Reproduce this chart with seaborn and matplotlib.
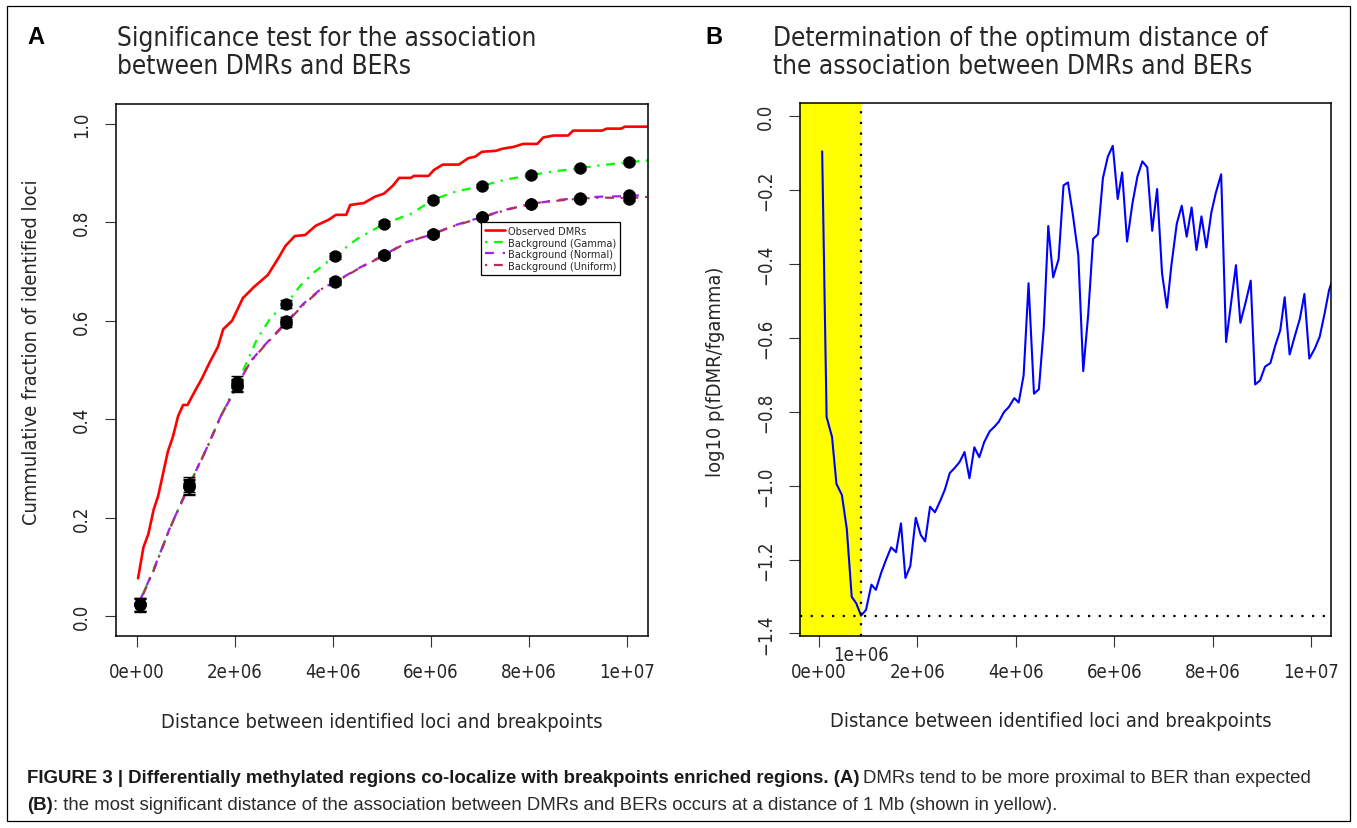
import numpy as np
import pandas as pd
import matplotlib
matplotlib.use('Agg')
import matplotlib.pyplot as plt
import matplotlib.transforms as mtransforms
from matplotlib import font_manager as fm
from matplotlib.patches import Rectangle
import seaborn as sns

# ---- Panel A: cumulative fraction of identified loci (distance in Mb) ----
obs_x = [0.02, 0.13, 0.23, 0.34, 0.43, 0.52, 0.63, 0.73, 0.84, 0.94,
         1.03, 1.18, 1.32, 1.48, 1.65, 1.76, 1.94, 2.16, 2.38, 2.67,
         2.89, 3.03, 3.22, 3.43, 3.65, 3.91, 4.06, 4.27, 4.35, 4.63,
         4.86, 5.04, 5.22, 5.35, 5.59, 5.65, 5.95, 6.06, 6.24, 6.57,
         6.76, 6.90, 7.04, 7.33, 7.45, 7.69, 7.88, 8.17, 8.29, 8.50,
         8.80, 8.90, 9.49, 9.59, 9.88, 9.96, 10.5]
obs_y = [0.077, 0.140, 0.167, 0.217, 0.244, 0.285, 0.335, 0.364, 0.407, 0.429,
         0.429, 0.457, 0.482, 0.515, 0.547, 0.583, 0.600, 0.646, 0.668, 0.693,
         0.728, 0.752, 0.772, 0.774, 0.793, 0.805, 0.815, 0.815, 0.835, 0.839,
         0.852, 0.858, 0.874, 0.890, 0.890, 0.894, 0.894, 0.906, 0.917, 0.917,
         0.930, 0.933, 0.943, 0.945, 0.949, 0.953, 0.959, 0.959, 0.972, 0.976,
         0.976, 0.986, 0.986, 0.990, 0.990, 0.994, 0.994]

gam_x = [0.05, 0.34, 0.66, 1.05, 1.43, 1.71, 2.05, 2.16, 2.45, 2.74, 3.05, 3.33, 3.62,
         4.05, 4.49, 5.05, 5.59, 6.05, 6.5, 7.05, 7.5, 8.05, 8.5, 9.05, 9.5, 10.05, 10.5]
gam_y = [0.030, 0.095, 0.177, 0.264, 0.343, 0.407, 0.475, 0.498, 0.563, 0.608, 0.634, 0.671, 0.699,
         0.732, 0.766, 0.797, 0.817, 0.846, 0.862, 0.874, 0.886, 0.896, 0.903, 0.910, 0.916, 0.922, 0.926]

nor_x = [0.05, 0.34, 0.66, 1.05, 1.43, 1.71, 2.05, 2.3, 2.59, 3.05, 3.4, 3.76, 4.05,
         4.49, 5.05, 5.51, 6.05, 6.46, 7.05, 7.5, 8.05, 8.5, 9.05, 9.5, 10.05, 10.5]
nor_y = [0.030, 0.095, 0.177, 0.264, 0.343, 0.407, 0.468, 0.516, 0.549, 0.598, 0.635, 0.665, 0.679,
         0.705, 0.734, 0.760, 0.776, 0.793, 0.811, 0.825, 0.837, 0.844, 0.850, 0.852, 0.853, 0.857]
uni_y = [0.028, 0.093, 0.176, 0.262, 0.342, 0.406, 0.470, 0.514, 0.548, 0.596, 0.633, 0.664, 0.678,
         0.704, 0.733, 0.759, 0.777, 0.792, 0.810, 0.824, 0.838, 0.843, 0.848, 0.850, 0.849, 0.852]

pt_x = [0.05, 1.05, 2.05, 3.05, 4.05, 5.05, 6.05, 7.05, 8.05, 9.05, 10.05]
gam_pts = [0.024, 0.264, 0.475, 0.634, 0.732, 0.797, 0.846, 0.874, 0.896, 0.910, 0.922]
nor_pts = [0.024, 0.268, 0.468, 0.600, 0.680, 0.734, 0.776, 0.811, 0.837, 0.850, 0.855]
uni_pts = [0.022, 0.262, 0.470, 0.596, 0.678, 0.733, 0.777, 0.810, 0.838, 0.848, 0.848]
pt_err = [0.013, 0.015, 0.012, 0.008, 0.006, 0.005, 0.005, 0.004, 0.004, 0.004, 0.004]

# ---- Panel B: log10 p(fDMR/fgamma) ----
bx = [0.07, 0.16, 0.27, 0.36, 0.47, 0.57, 0.67, 0.76, 0.86, 0.96,
      1.07, 1.16, 1.27, 1.36, 1.47, 1.57, 1.67, 1.76, 1.86, 1.97,
      2.07, 2.16, 2.26, 2.36, 2.47, 2.56, 2.66, 2.76, 2.86, 2.96,
      3.06, 3.16, 3.26, 3.36, 3.47, 3.57, 3.66, 3.76, 3.86, 3.97,
      4.06, 4.16, 4.26, 4.37, 4.47, 4.57, 4.66, 4.76, 4.87, 4.97,
      5.06, 5.16, 5.27, 5.37, 5.47, 5.57, 5.67, 5.77, 5.87, 5.97,
      6.07, 6.16, 6.26, 6.37, 6.47, 6.57, 6.67, 6.77, 6.87, 6.97,
      7.07, 7.16, 7.27, 7.37, 7.47, 7.57, 7.67, 7.77, 7.87, 7.97,
      8.06, 8.17, 8.27, 8.37, 8.47, 8.56, 8.67, 8.77, 8.86, 8.96,
      9.06, 9.17, 9.27, 9.37, 9.46, 9.56, 9.67, 9.77, 9.86, 9.96,
      10.07, 10.17, 10.27, 10.36, 10.46]
by = [-0.095, -0.814, -0.868, -0.995, -1.025, -1.117, -1.301, -1.318, -1.352, -1.336,
      -1.268, -1.282, -1.235, -1.203, -1.167, -1.180, -1.102, -1.250, -1.217, -1.087,
      -1.133, -1.151, -1.057, -1.072, -1.040, -1.011, -0.966, -0.952, -0.936, -0.909,
      -0.980, -0.896, -0.923, -0.882, -0.853, -0.840, -0.826, -0.801, -0.787, -0.763,
      -0.775, -0.701, -0.452, -0.751, -0.739, -0.570, -0.297, -0.436, -0.387, -0.187,
      -0.179, -0.267, -0.376, -0.690, -0.538, -0.332, -0.319, -0.167, -0.109, -0.080,
      -0.224, -0.152, -0.339, -0.235, -0.163, -0.122, -0.138, -0.310, -0.197, -0.425,
      -0.518, -0.403, -0.290, -0.242, -0.326, -0.247, -0.362, -0.271, -0.355, -0.261,
      -0.208, -0.157, -0.611, -0.507, -0.403, -0.559, -0.502, -0.445, -0.726, -0.715,
      -0.678, -0.668, -0.620, -0.579, -0.490, -0.645, -0.593, -0.547, -0.481, -0.656,
      -0.629, -0.597, -0.534, -0.471, -0.430]

x_ticks = [0, 2e6, 4e6, 6e6, 8e6, 1e7]
ya_ticks = [0.0, 0.2, 0.4, 0.6, 0.8, 1.0]
yb_ticks = [0.0, -0.2, -0.4, -0.6, -0.8, -1.0, -1.2, -1.4]

sns.set_theme(style='white')
plt.rcParams['font.family'] = ['DejaVu Sans']
plt.rcParams['font.stretch'] = 'condensed'
names = {f.name for f in fm.fontManager.ttflist}
cap_family = 'Liberation Sans Narrow' if 'Liberation Sans Narrow' in names else 'Liberation Sans'

W, H = 1357, 829
fig = plt.figure(figsize=(W / 100, H / 100), dpi=100)
renderer = fig.canvas.get_renderer()


def width_at20(txt, **kw):
    t = fig.text(0, 0, txt, fontsize=20, **kw)
    w = t.get_window_extent(renderer).width
    t.remove()
    return w


def fit(txt, target, **kw):
    return 20 * target / width_at20(txt, **kw)


tick_fs = fit('0e+00', 56)
lab_fs = fit('Distance between identified loci and breakpoints', 440)
title_fs = fit('Significance test for the association', 421)
leg_fs = fit('Background (Uniform)', 108)

axA = fig.add_axes([116 / W, 1 - 637 / H, 532 / W, 532 / H])
axB = fig.add_axes([800 / W, 1 - 637 / H, 531 / W, 533 / H])

# panel A curves
df_obs = pd.DataFrame({'dist': np.array(obs_x) * 1e6, 'frac': obs_y})
sns.lineplot(data=df_obs, x='dist', y='frac', ax=axA, color='red', lw=1.9,
             estimator=None, sort=False, label='Observed DMRs')
sns.lineplot(x=np.array(gam_x) * 1e6, y=gam_y, ax=axA, color='#00FF00', lw=1.6,
             linestyle=(0, (1, 3, 4, 3)), estimator=None, sort=False, label='Background (Gamma)')
sns.lineplot(x=np.array(nor_x) * 1e6, y=nor_y, ax=axA, color='#A020F0', lw=1.6,
             linestyle=(0, (4, 4)), estimator=None, sort=False, label='Background (Normal)')
sns.lineplot(x=np.array(nor_x) * 1e6, y=uni_y, ax=axA, color='#B03060', lw=1.6,
             linestyle=(0, (1, 3, 4, 3)), estimator=None, sort=False, label='Background (Uniform)')

px = np.array(pt_x) * 1e6
for vals in (gam_pts, nor_pts, uni_pts):
    axA.errorbar(px, vals, yerr=pt_err, fmt='none', ecolor='black', elinewidth=1,
                 capsize=4, capthick=1, zorder=4)
    sns.scatterplot(x=px, y=vals, ax=axA, color='black', s=80, edgecolor='black',
                    linewidth=0, zorder=5, legend=False)

axA.set_xlim(-0.43e6, 10.43e6)
axA.set_ylim(-0.04, 1.04)
axA.set_yticks(ya_ticks)
axA.set_yticklabels(['%.1f' % v for v in ya_ticks])
leg = axA.legend(loc='upper left', bbox_to_anchor=(0.686, 0.778), fontsize=leg_fs,
                 frameon=True, fancybox=False, edgecolor='black', framealpha=1,
                 borderpad=0.35, labelspacing=0.15, handlelength=1.9, handletextpad=0.2,
                 borderaxespad=0)
leg.get_frame().set_linewidth(0.9)
axA.set_xlabel('Distance between identified loci and breakpoints', fontsize=lab_fs, va='center')
axA.xaxis.set_label_coords(0.5, -0.160)
axA.set_ylabel('Cummulative fraction of identified loci', fontsize=lab_fs, va='center')
axA.yaxis.set_label_coords(-0.158, 0.536)

# panel B
i_best = int(np.argmin(by))
best_x, best_y = bx[i_best] * 1e6, by[i_best]
axB.axvspan(-2e6, best_x, color='#FFFF00', lw=0, zorder=0)
sns.lineplot(x=np.array(bx) * 1e6, y=by, ax=axB, color='blue', lw=1.5,
             estimator=None, sort=False)
axB.axvline(best_x, color='black', lw=1.6, linestyle=(0, (1, 3.8)), zorder=3)
axB.axhline(best_y, color='black', lw=1.6, linestyle=(0, (1, 3.8)), zorder=3)
axB.set_xlim(-0.38e6, 10.4e6)
axB.set_ylim(-1.407, 0.036)
axB.set_yticks(yb_ticks)
axB.set_yticklabels([('%.1f' % v).replace('-', '\u2212') for v in yb_ticks])
axB.text(best_x, -0.034, '1e+06', transform=mtransforms.blended_transform_factory(axB.transData, axB.transAxes),
         ha='center', va='center', fontsize=tick_fs)
axB.set_xlabel('Distance between identified loci and breakpoints', fontsize=lab_fs, va='center')
axB.xaxis.set_label_coords(0.473, -0.158)
axB.set_ylabel('log10 p(fDMR/fgamma)', fontsize=lab_fs, va='center')
axB.yaxis.set_label_coords(-0.160, 0.497)

for ax in (axA, axB):
    ax.set_xticks(x_ticks)
    ax.set_xticklabels(['{:.0e}'.format(v) for v in x_ticks])
    ax.tick_params(axis='both', which='major', direction='out', length=8, width=0.8,
                   color='#333333', labelsize=tick_fs, bottom=True, left=True)
    ax.tick_params(axis='x', pad=11)
    ax.tick_params(axis='y', pad=10, labelrotation=90)
    for lab in ax.get_yticklabels():
        lab.set_va('center')
    for s in ax.spines.values():
        s.set_visible(True)
        s.set_color('black')
        s.set_linewidth(1.1)
    ax.set_facecolor('white')
    ax.grid(False)

# panel titles
for letter, lx, tx, lines in (('A', 36, 117, ['Significance test for the association', 'between DMRs and BERs']),
                              ('B', 714, 773, ['Determination of the optimum distance of',
                                               'the association between DMRs and BERs'])):
    fig.text(lx / W, 1 - 37 / H, letter, fontsize=17, fontweight='bold', family='Liberation Sans',
             ha='center', va='center', color='black')
    for k, line in enumerate(lines):
        fig.text(tx / W, 1 - (46 + 28 * k) / H, line, fontsize=title_fs, ha='left', va='baseline')

# caption, line 1 fitted to the reference width (27 px .. 1318 px)
cap_b1 = 'FIGURE 3 | Differentially methylated regions co-localize with breakpoints enriched regions. (A)'
cap_r1 = 'DMRs tend to be more proximal to BER than expected'
wb = width_at20(cap_b1, family=cap_family, fontweight='bold')
wr = width_at20(cap_r1, family=cap_family)
gap20 = 5
cap_fs = 20 * 1291 / (wb + wr + gap20)


def cap_line(y, bold, rest, gap):
    t = fig.text(27 / W, 1 - y / H, bold, family=cap_family, fontweight='bold', fontsize=cap_fs,
                 color='#1a1a1a', va='baseline')
    x1 = t.get_window_extent(renderer).x1
    fig.text((x1 + gap) / W, 1 - y / H, rest, family=cap_family, fontsize=cap_fs,
             color='#2b2b2b', va='baseline')


cap_line(783, cap_b1, cap_r1, gap20 * cap_fs / 20)
cap_line(810, '(B)', ': the most significant distance of the association between DMRs and BERs occurs at '
         'a distance of 1 Mb (shown in yellow).', 0)

fig.add_artist(Rectangle((7 / W, 7 / H), 1343 / W, 815 / H, transform=fig.transFigure,
                         fill=False, edgecolor='black', lw=0.9))

fig.savefig('out.png', dpi=100, facecolor='white')
